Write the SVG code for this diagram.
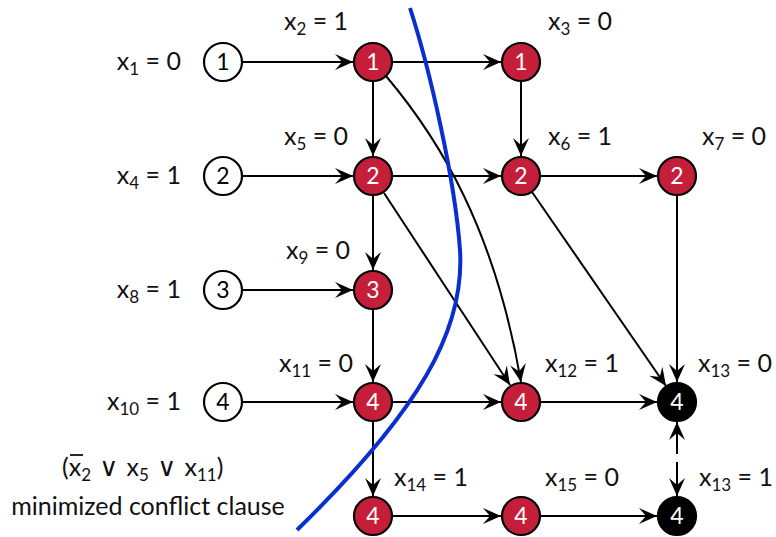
<svg xmlns="http://www.w3.org/2000/svg" width="776" height="537" viewBox="0 0 776 537">
<style>
.nw circle{fill:#fff;stroke:#000;stroke-width:2.2}
.nr circle{fill:#c41e3a;stroke:#000;stroke-width:2.2}
.nb circle{fill:#000;stroke:#000;stroke-width:2.2}
.nw text{fill:#000}
.nr text,.nb text{fill:#fff}
.node text{font-family:Lato,"Open Sans",sans-serif;font-size:23px;text-anchor:middle}
.lbl{font-family:Lato,"Open Sans",sans-serif;font-size:25px;fill:#111}
.sub{font-size:17px}
.or{font-family:"DejaVu Sans",sans-serif;font-size:26px}
#edges path,#edges line{stroke:#000;stroke-width:2;fill:none;marker-end:url(#ah)}
</style>
<defs>
<marker id="ah" viewBox="-19 -9 20 18" refX="0" refY="0" markerWidth="20" markerHeight="18" markerUnits="userSpaceOnUse" orient="auto">
<path d="M0,0 L-18,-8 L-11,0 L-18,8 Z" fill="#000"/>
</marker>
</defs>
<rect width="776" height="537" fill="#fff"/>
<g id="edges">
<line x1="243" y1="62" x2="353" y2="62"/>
<line x1="393" y1="62" x2="501" y2="62"/>
<line x1="521" y1="82" x2="521" y2="156"/>
<line x1="373" y1="82" x2="373" y2="156"/>
<path d="M386,76 C440,140 495,230 521,382"/>
<line x1="243" y1="176" x2="353" y2="176"/>
<line x1="393" y1="176" x2="501" y2="176"/>
<line x1="541" y1="176" x2="657" y2="176"/>
<line x1="373" y1="196" x2="373" y2="270"/>
<line x1="384" y1="193" x2="510" y2="385"/>
<line x1="532" y1="192" x2="666" y2="386"/>
<line x1="677" y1="196" x2="677" y2="382"/>
<line x1="243" y1="290" x2="353" y2="290"/>
<line x1="373" y1="310" x2="373" y2="382"/>
<line x1="243" y1="402" x2="353" y2="402"/>
<line x1="393" y1="402" x2="501" y2="402"/>
<line x1="541" y1="402" x2="657" y2="402"/>
<line x1="373" y1="422" x2="373" y2="496"/>
<line x1="393" y1="516" x2="501" y2="516"/>
<line x1="541" y1="516" x2="657" y2="516"/>
<line x1="677" y1="454" x2="677" y2="422"/>
<line x1="677" y1="462" x2="677" y2="496"/>
</g>
<g id="n_w1" class="node nw"><circle cx="223" cy="62" r="19"/><text x="223" y="70">1</text></g>
<g id="n_w2" class="node nw"><circle cx="223" cy="176" r="19"/><text x="223" y="184">2</text></g>
<g id="n_w3" class="node nw"><circle cx="223" cy="290" r="19"/><text x="223" y="298">3</text></g>
<g id="n_w4" class="node nw"><circle cx="223" cy="402" r="19"/><text x="223" y="410">4</text></g>
<g id="n_x2" class="node nr"><circle cx="373" cy="62" r="19"/><text x="373" y="70">1</text></g>
<g id="n_x3" class="node nr"><circle cx="521" cy="62" r="19"/><text x="521" y="70">1</text></g>
<g id="n_x5" class="node nr"><circle cx="373" cy="176" r="19"/><text x="373" y="184">2</text></g>
<g id="n_x6" class="node nr"><circle cx="521" cy="176" r="19"/><text x="521" y="184">2</text></g>
<g id="n_x7" class="node nr"><circle cx="677" cy="176" r="19"/><text x="677" y="184">2</text></g>
<g id="n_x9" class="node nr"><circle cx="373" cy="290" r="19"/><text x="373" y="298">3</text></g>
<g id="n_x11" class="node nr"><circle cx="373" cy="402" r="19"/><text x="373" y="410">4</text></g>
<g id="n_x12" class="node nr"><circle cx="521" cy="402" r="19"/><text x="521" y="410">4</text></g>
<g id="n_x13a" class="node nb"><circle cx="677" cy="402" r="19"/><text x="677" y="410">4</text></g>
<g id="n_x14" class="node nr"><circle cx="373" cy="516" r="19"/><text x="373" y="524">4</text></g>
<g id="n_x15" class="node nr"><circle cx="521" cy="516" r="19"/><text x="521" y="524">4</text></g>
<g id="n_x13b" class="node nb"><circle cx="677" cy="516" r="19"/><text x="677" y="524">4</text></g>
<g id="labels">
<text class="lbl" x="181" y="70" text-anchor="end">x<tspan class="sub" dy="5">1</tspan><tspan dy="-5"> = 0</tspan></text>
<text class="lbl" x="181" y="184" text-anchor="end">x<tspan class="sub" dy="5">4</tspan><tspan dy="-5"> = 1</tspan></text>
<text class="lbl" x="181" y="298" text-anchor="end">x<tspan class="sub" dy="5">8</tspan><tspan dy="-5"> = 1</tspan></text>
<text class="lbl" x="181" y="410" text-anchor="end">x<tspan class="sub" dy="5">10</tspan><tspan dy="-5"> = 1</tspan></text>
<text class="lbl" x="316" y="30" text-anchor="middle">x<tspan class="sub" dy="5">2</tspan><tspan dy="-5"> = 1</tspan></text>
<text class="lbl" x="580" y="30" text-anchor="middle">x<tspan class="sub" dy="5">3</tspan><tspan dy="-5"> = 0</tspan></text>
<text class="lbl" x="316" y="145" text-anchor="middle">x<tspan class="sub" dy="5">5</tspan><tspan dy="-5"> = 0</tspan></text>
<text class="lbl" x="580" y="145" text-anchor="middle">x<tspan class="sub" dy="5">6</tspan><tspan dy="-5"> = 1</tspan></text>
<text class="lbl" x="734" y="145" text-anchor="middle">x<tspan class="sub" dy="5">7</tspan><tspan dy="-5"> = 0</tspan></text>
<text class="lbl" x="318" y="259" text-anchor="middle">x<tspan class="sub" dy="5">9</tspan><tspan dy="-5"> = 0</tspan></text>
<text class="lbl" x="316" y="372" text-anchor="middle">x<tspan class="sub" dy="5">11</tspan><tspan dy="-5"> = 0</tspan></text>
<text class="lbl" x="582" y="372" text-anchor="middle">x<tspan class="sub" dy="5">12</tspan><tspan dy="-5"> = 1</tspan></text>
<text class="lbl" x="735" y="372" text-anchor="middle">x<tspan class="sub" dy="5">13</tspan><tspan dy="-5"> = 0</tspan></text>
<text class="lbl" x="431" y="486" text-anchor="middle">x<tspan class="sub" dy="5">14</tspan><tspan dy="-5"> = 1</tspan></text>
<text class="lbl" x="582" y="486" text-anchor="middle">x<tspan class="sub" dy="5">15</tspan><tspan dy="-5"> = 0</tspan></text>
<text class="lbl" x="736" y="486" text-anchor="middle">x<tspan class="sub" dy="5">13</tspan><tspan dy="-5"> = 1</tspan></text>
<text class="lbl" x="62" y="476">(x<tspan class="sub" dy="5">2</tspan><tspan class="or" dy="-5"> ∨ </tspan>x<tspan class="sub" dy="5">5</tspan><tspan class="or" dy="-5"> ∨ </tspan>x<tspan class="sub" dy="5">11</tspan><tspan dy="-5">)</tspan></text>
<line x1="70" y1="455" x2="83" y2="455" stroke="#111" stroke-width="1.8"/>
<text x="148" y="515" text-anchor="middle" font-family="Lato,'Open Sans',sans-serif" font-size="25" fill="#111">minimized conflict clause</text>
</g>
<path id="cut" d="M410,8 C430,70 455,180 460,250 C465,330 420,410 297,530" fill="none" stroke="#0a2fd0" stroke-width="4"/>
</svg>
